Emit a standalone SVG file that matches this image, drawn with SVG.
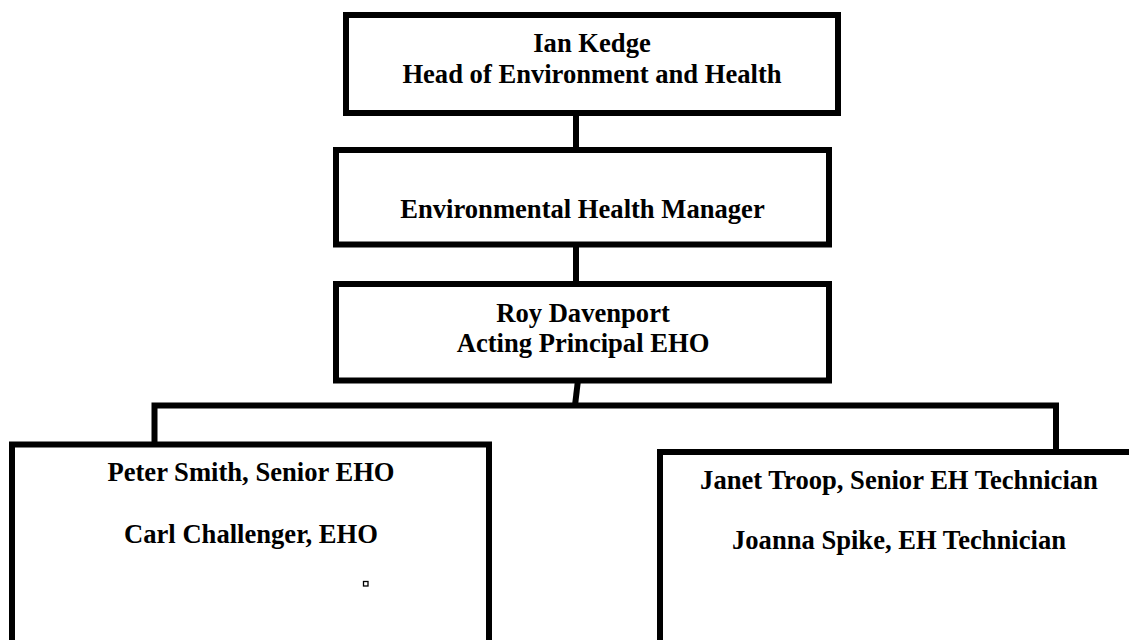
<svg xmlns="http://www.w3.org/2000/svg" width="1129" height="640" viewBox="0 0 1129 640">
<style>
.box{fill:#fff;stroke:#000;stroke-width:6}
.ln{fill:none;stroke:#000;stroke-width:6}
text{font-family:"Liberation Serif","Times New Roman",serif;font-weight:bold;font-size:26.6px;fill:#000;text-anchor:middle}
</style>
<rect width="1129" height="640" fill="#fff"/>
<g id="connectors">
<line class="ln" x1="576" y1="113" x2="576" y2="150"/>
<line class="ln" x1="576" y1="244" x2="576" y2="284"/>
<line class="ln" x1="578" y1="380" x2="575" y2="405.5"/>
<polyline class="ln" points="154.5,445 154.5,405.5 1056,405.5 1056,452"/>
</g>
<g id="node-ian">
<rect class="box" x="346" y="15" width="492" height="98"/>
<text x="592" y="51.7">Ian Kedge</text>
<text x="592" y="82.7">Head of Environment and Health</text>
</g>
<g id="node-ehm">
<rect class="box" x="336" y="150" width="493" height="94.5"/>
<text x="582.5" y="218.3">Environmental Health Manager</text>
</g>
<g id="node-roy">
<rect class="box" x="336" y="284" width="493" height="96.5"/>
<text x="583" y="321.7">Roy Davenport</text>
<text x="583" y="352.3">Acting Principal EHO</text>
</g>
<g id="node-left">
<rect class="box" x="12" y="444.5" width="477" height="220"/>
<text x="251" y="480.7">Peter Smith, Senior EHO</text>
<text x="251" y="543.3">Carl Challenger, EHO</text>
<rect x="363.5" y="581.5" width="4.5" height="4.5" fill="#fff" stroke="#000" stroke-width="1.3"/>
</g>
<g id="node-right">
<rect class="box" x="660" y="452" width="478" height="220"/>
<text x="899" y="489.3">Janet Troop, Senior EH Technician</text>
<text x="899" y="549.3">Joanna Spike, EH Technician</text>
</g>
</svg>
